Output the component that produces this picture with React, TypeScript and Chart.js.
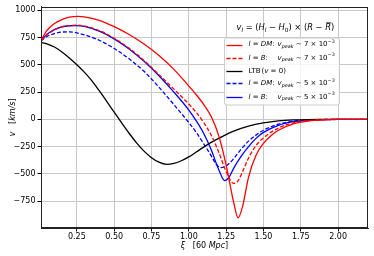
import React, { useEffect, useRef } from 'react';
import { Chart, registerables } from 'chart.js';
Chart.register(...registerables);

const xTicks = [0.25, 0.5, 0.75, 1.0, 1.25, 1.5, 1.75, 2.0];
const yTicks = [-750, -500, -250, 0, 250, 500, 750, 1000];

// l = DM, v_peak ~ 7e-3 (red solid)
const xiRedDM = [0.01, 0.05, 0.1, 0.15, 0.2, 0.26, 0.3, 0.4, 0.5, 0.6, 0.7, 0.8, 0.9, 1.0, 1.05, 1.1, 1.15, 1.2, 1.25, 1.3, 1.33, 1.36, 1.4, 1.45, 1.5, 1.55, 1.6, 1.7, 1.8, 1.9, 2.0, 2.1, 2.2];
const vRedDM = [725, 815, 878, 915, 937, 944, 940, 908, 850, 778, 690, 585, 458, 305, 225, 135, 25, -150, -420, -760, -903, -800, -530, -330, -220, -150, -100, -42, -16, -5, -1, 0, 0];

// l = B, v_peak ~ 7e-3 (red dashed)
const xiRedB = [0.01, 0.05, 0.1, 0.15, 0.2, 0.25, 0.3, 0.4, 0.5, 0.6, 0.7, 0.8, 0.9, 1.0, 1.05, 1.1, 1.15, 1.2, 1.25, 1.3, 1.33, 1.36, 1.4, 1.45, 1.5, 1.6, 1.7, 1.8, 1.9, 2.0, 2.1, 2.2];
const vRedB = [720, 775, 820, 848, 860, 864, 856, 814, 744, 652, 540, 410, 277, 140, 62, -30, -145, -300, -480, -588, -565, -480, -355, -240, -170, -80, -32, -11, -4, -1, 0, 0];

// LTB (v = 0) (black)
const xiLTB = [0.01, 0.05, 0.1, 0.15, 0.2, 0.25, 0.3, 0.35, 0.4, 0.45, 0.5, 0.55, 0.6, 0.65, 0.7, 0.75, 0.8, 0.85, 0.9, 0.95, 1.0, 1.05, 1.1, 1.15, 1.2, 1.3, 1.4, 1.5, 1.6, 1.7, 1.8, 1.9, 2.0, 2.2];
const vLTB = [705, 693, 663, 618, 563, 501, 433, 355, 262, 165, 66, -33, -128, -216, -292, -352, -393, -413, -405, -380, -345, -300, -255, -212, -175, -108, -62, -33, -15, -6, -2, -1, 0, 0];

// l = DM, v_peak ~ 5e-3 (blue dashed)
const xiBlueDM = [0.01, 0.05, 0.1, 0.15, 0.2, 0.25, 0.3, 0.4, 0.5, 0.6, 0.7, 0.75, 0.8, 0.9, 1.0, 1.05, 1.1, 1.15, 1.18, 1.21, 1.24, 1.27, 1.3, 1.35, 1.4, 1.45, 1.5, 1.6, 1.7, 1.8, 1.9, 2.0, 2.1, 2.2];
const vBlueDM = [720, 760, 787, 800, 802, 793, 775, 725, 650, 555, 440, 370, 295, 135, -30, -120, -225, -335, -405, -443, -435, -405, -362, -275, -200, -145, -100, -45, -18, -6, -2, 0, 0, 0];

// l = B, v_peak ~ 5e-3 (blue solid)
const xiBlueB = [0.01, 0.05, 0.1, 0.15, 0.2, 0.25, 0.3, 0.4, 0.5, 0.6, 0.7, 0.8, 0.9, 1.0, 1.05, 1.1, 1.15, 1.2, 1.24, 1.27, 1.3, 1.35, 1.4, 1.45, 1.5, 1.6, 1.7, 1.8, 1.9, 2.0, 2.1, 2.2];
const vBlueB = [720, 780, 823, 848, 858, 860, 852, 808, 738, 645, 532, 400, 250, 85, -15, -130, -280, -460, -562, -530, -450, -340, -250, -175, -120, -55, -22, -8, -2, 0, 0, 0];

const FONT = '"DejaVu Sans", "Liberation Sans", sans-serif';

type Seg = { t: string; it?: boolean; sub?: boolean; sup?: boolean; over?: boolean; x?: number };

function segWidth(ctx: CanvasRenderingContext2D, segs: Seg[], size: number) {
  let w = 0;
  for (const s of segs) {
    const fs = s.sub || s.sup ? size * 0.7 : size;
    ctx.font = `${s.it ? 'italic ' : ''}${fs}px ${FONT}`;
    w += ctx.measureText(s.t).width;
  }
  return w;
}

function drawRich(ctx: CanvasRenderingContext2D, segs: Seg[], x: number, y: number, size: number) {
  let cx = x;
  ctx.textBaseline = 'middle';
  ctx.textAlign = 'left';
  for (const s of segs) {
    if (s.x !== undefined) cx = s.x;
    const fs = s.sub || s.sup ? size * 0.7 : size;
    ctx.font = `${s.it ? 'italic ' : ''}${fs}px ${FONT}`;
    const dy = s.sub ? size * 0.3 : s.sup ? -size * 0.4 : 0;
    ctx.fillText(s.t, cx, y + dy);
    const w = ctx.measureText(s.t).width;
    if (s.over) {
      ctx.save();
      ctx.lineWidth = 0.8;
      ctx.beginPath();
      ctx.moveTo(cx + 1, y - size * 0.62);
      ctx.lineTo(cx + w + 0.5, y - size * 0.62);
      ctx.stroke();
      ctx.restore();
    }
    cx += w;
  }
}

const decorPlugin = {
  id: 'decor',
  afterDraw(chart: any) {
    const ctx: CanvasRenderingContext2D = chart.ctx;
    const a = chart.chartArea;
    ctx.save();
    ctx.strokeStyle = '#222';
    ctx.lineWidth = 1;
    ctx.strokeRect(Math.round(a.left) + 0.5, Math.round(a.top) + 0.5, Math.round(a.right - a.left) - 1, Math.round(a.bottom - a.top) - 1);

    ctx.fillStyle = '#000';
    ctx.strokeStyle = '#000';
    const xt: Seg[] = [{ t: 'ξ', it: true }, { t: '   [60 ' }, { t: 'Mpc', it: true }, { t: ']' }];
    const xw = segWidth(ctx, xt, 8);
    drawRich(ctx, xt, (a.left + a.right) / 2 - xw / 2, 245.5, 8);
    const yt: Seg[] = [{ t: 'v', it: true }, { t: '   [' }, { t: 'km/s', it: true }, { t: ']' }];
    const yw = segWidth(ctx, yt, 8);
    ctx.save();
    ctx.translate(12.5, (a.top + a.bottom) / 2);
    ctx.rotate(-Math.PI / 2);
    drawRich(ctx, yt, -yw / 2, 0, 8);
    ctx.restore();

    const title: Seg[] = [
      { t: 'v', it: true }, { t: 'l', it: true, sub: true }, { t: ' = (' }, { t: 'H', it: true }, { t: 'l', it: true, sub: true },
      { t: ' − ' }, { t: 'H', it: true }, { t: '0', sub: true }, { t: ') × (' }, { t: 'R', it: true }, { t: ' − ' },
      { t: 'R', it: true, over: true }, { t: ')' },
    ];
    drawRich(ctx, title, 236.5, 28, 8.3);

    const bx = 224.5, by = 38, bw = 115, bh = 67, r = 2;
    ctx.beginPath();
    ctx.moveTo(bx + r, by);
    ctx.lineTo(bx + bw - r, by);
    ctx.quadraticCurveTo(bx + bw, by, bx + bw, by + r);
    ctx.lineTo(bx + bw, by + bh - r);
    ctx.quadraticCurveTo(bx + bw, by + bh, bx + bw - r, by + bh);
    ctx.lineTo(bx + r, by + bh);
    ctx.quadraticCurveTo(bx, by + bh, bx, by + bh - r);
    ctx.lineTo(bx, by + r);
    ctx.quadraticCurveTo(bx, by, bx + r, by);
    ctx.closePath();
    ctx.fillStyle = 'rgba(255,255,255,0.8)';
    ctx.fill();
    ctx.strokeStyle = '#cccccc';
    ctx.lineWidth = 1;
    ctx.stroke();

    const vx = 277.5;
    const peak = (n: string): Seg[] => [
      { t: 'v', it: true, x: vx }, { t: 'peak', it: true, sub: true }, { t: ' ∼ ' + n + ' × 10' }, { t: '−3', sup: true },
    ];
    const entries: { color: string; dash: number[]; y: number; segs: Seg[] }[] = [
      { color: '#ff0000', dash: [], y: 44.5, segs: [{ t: 'l', it: true }, { t: ' = ' }, { t: 'DM', it: true }, { t: ':' }, ...peak('7')] },
      { color: '#ff0000', dash: [4, 2], y: 58, segs: [{ t: 'l', it: true }, { t: ' = ' }, { t: 'B', it: true }, { t: ':' }, ...peak('7')] },
      { color: '#000000', dash: [], y: 70.7, segs: [{ t: 'LTB' }, { t: '(', x: 261.5 }, { t: 'v', it: true }, { t: ' = 0)' }] },
      { color: '#0000ff', dash: [4, 2], y: 83.3, segs: [{ t: 'l', it: true }, { t: ' = ' }, { t: 'DM', it: true }, { t: ':' }, ...peak('5')] },
      { color: '#0000ff', dash: [], y: 96.7, segs: [{ t: 'l', it: true }, { t: ' = ' }, { t: 'B', it: true }, { t: ':' }, ...peak('5')] },
    ];
    for (const e of entries) {
      ctx.save();
      ctx.strokeStyle = e.color;
      ctx.lineWidth = 1.3;
      ctx.setLineDash(e.dash);
      ctx.beginPath();
      ctx.moveTo(226.5, Math.round(e.y) + 0.5);
      ctx.lineTo(242.5, Math.round(e.y) + 0.5);
      ctx.stroke();
      ctx.restore();
      ctx.fillStyle = '#000';
      ctx.strokeStyle = '#000';
      drawRich(ctx, e.segs, 248.5, e.y, 7);
    }
    ctx.restore();
  },
};

function pts(xs: number[], vs: number[]) {
  return xs.map((x, i) => ({ x, y: vs[i] }));
}

export default function App() {
  const ref = useRef<HTMLCanvasElement>(null);
  useEffect(() => {
    document.body.style.margin = '0';
    const ds = (label: string, xs: number[], vs: number[], color: string, dash: number[]) => ({
      label,
      data: pts(xs, vs),
      borderColor: color,
      backgroundColor: color,
      borderWidth: 1.3,
      borderDash: dash,
      pointRadius: 0,
      fill: false,
      cubicInterpolationMode: 'monotone' as const,
    });
    const chart = new Chart(ref.current!, {
      type: 'line',
      data: {
        datasets: [
          ds('l = DM: v_peak ~ 7e-3', xiRedDM, vRedDM, '#ff0000', []),
          ds('l = B: v_peak ~ 7e-3', xiRedB, vRedB, '#ff0000', [4, 2]),
          ds('LTB (v = 0)', xiLTB, vLTB, '#000000', []),
          ds('l = DM: v_peak ~ 5e-3', xiBlueDM, vBlueDM, '#0000ff', [4, 2]),
          ds('l = B: v_peak ~ 5e-3', xiBlueB, vBlueB, '#0000ff', []),
        ],
      },
      options: {
        responsive: false,
        animation: false,
        events: [],
        layout: { padding: { top: 6, right: 6, left: 0, bottom: 0 } },
        plugins: { legend: { display: false }, tooltip: { enabled: false }, title: { display: false } },
        scales: {
          x: {
            type: 'linear',
            min: 0.01,
            max: 2.2,
            afterFit: (s: any) => { s.height = 28; },
            afterBuildTicks: (s: any) => { s.ticks = xTicks.map((v) => ({ value: v })); },
            grid: { color: '#c8c8c8', lineWidth: 1, tickColor: '#000', tickLength: 3.5, tickWidth: 1 },
            border: { color: '#222', width: 1 },
            ticks: {
              color: '#000',
              font: { family: FONT, size: 8 },
              padding: 1,
              maxRotation: 0,
              autoSkip: false,
              callback: (v: any) => Number(v).toFixed(2),
            },
          },
          y: {
            type: 'linear',
            min: -997,
            max: 1032,
            afterFit: (s: any) => { s.width = 41; },
            afterBuildTicks: (s: any) => { s.ticks = yTicks.map((v) => ({ value: v })); },
            grid: { color: '#c8c8c8', lineWidth: 1, tickColor: '#000', tickLength: 3.5, tickWidth: 1 },
            border: { color: '#222', width: 1 },
            ticks: {
              color: '#000',
              font: { family: FONT, size: 8 },
              padding: 2,
              autoSkip: false,
              callback: (v: any) => (Number(v) < 0 ? '−' + Math.abs(Number(v)) : String(v)),
            },
          },
        },
      },
      plugins: [decorPlugin],
    });
    return () => chart.destroy();
  }, []);
  return (
    <div style={{ position: 'absolute', left: 0, top: 0, width: 374, height: 256, background: '#fff' }}>
      <canvas ref={ref} width={374} height={256} style={{ width: 374, height: 256, display: 'block' }} />
    </div>
  );
}
